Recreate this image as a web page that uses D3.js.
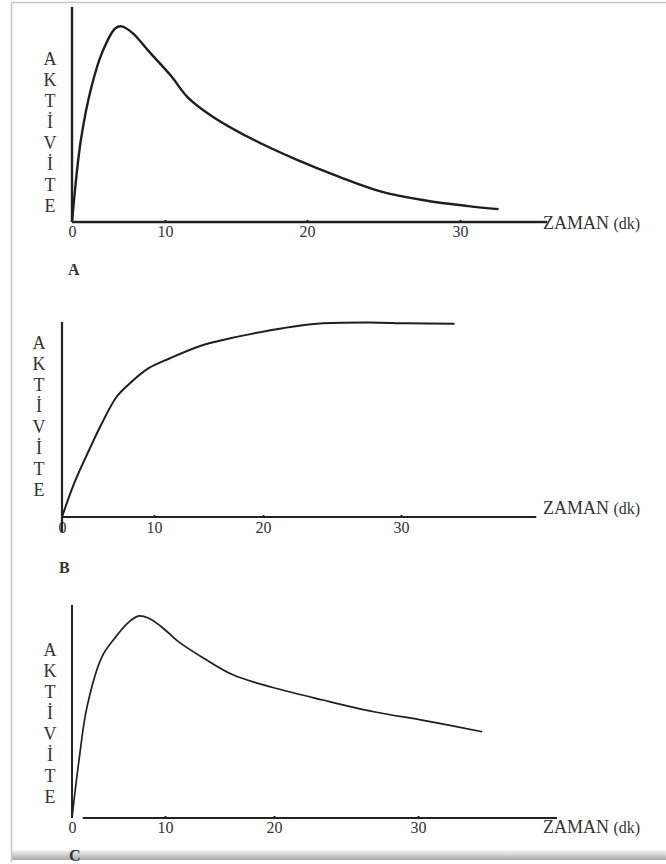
<!DOCTYPE html>
<html>
<head>
<meta charset="utf-8">
<script src="https://d3js.org/d3.v7.min.js"></script>
<style>
body { margin: 0; background: #fff; }
svg text { font-family: "Liberation Serif", "Times New Roman", serif; fill: #333; }
</style>
</head>
<body>
<svg width="666" height="864"></svg>
<script>
// tick labels on the time axis (dk)
var tickLabels = [0, 10, 20, 30];
var yLetters = ["A", "K", "T", "İ", "V", "İ", "T", "E"];

// A: rises fast, peaks ~5 dk, then washes out
var aTime = [0, 0.95, 2.1, 3.26, 4.64, 5.33, 6.49, 8.34, 10.42, 11.6, 13.36, 16.31, 19.26, 22.11, 24.92, 27.74, 30.55, 32.52];
var aActivity = [0, 38, 63, 79, 90, 91, 88, 79, 68, 58, 49, 38, 29, 21, 14, 10, 7.4, 6];

// B: rises and stays on a plateau
var bTime = [0, 1.34, 2.96, 4.35, 5.96, 7.58, 9.42, 11.46, 14.58, 17.7, 20.64, 22.49, 24.34, 27.72, 30.49, 33.88];
var bActivity = [0, 17.5, 34.5, 48.2, 61.8, 69.4, 76.3, 81.4, 88.3, 92.5, 95.9, 98, 99.3, 99.8, 99.3, 99.1];

// C: peak ~7 dk, then slow decline
var cTime = [0, 0.71, 1.62, 3.23, 4.59, 5.96, 7.11, 8.25, 9.61, 11.23, 13.55, 16.28, 19.81, 23.4, 26.93, 30.47, 34.46];
var cActivity = [0, 25.7, 52.3, 75.8, 84.4, 91.4, 94.8, 93.8, 89.8, 82.8, 75, 67.1, 61.4, 55.4, 49.9, 45.7, 40.5];

var svg = d3.select("svg");

// frame of the page
var grad = svg.append("defs").append("linearGradient")
    .attr("id", "shadow").attr("x1", 0).attr("y1", 0).attr("x2", 0).attr("y2", 1);
grad.append("stop").attr("offset", "0%").attr("stop-color", "#f6f6f6");
grad.append("stop").attr("offset", "100%").attr("stop-color", "#a8a8a8");
svg.append("rect").attr("x", 12).attr("y", 850).attr("width", 654).attr("height", 10)
    .attr("fill", "url(#shadow)");
svg.append("path").attr("d", "M11.5,862 V2.5 H666").attr("fill", "none")
    .attr("stroke", "#c8c8c8").attr("stroke-width", 1.5);

var panels = [
  {name: "A", time: aTime, act: aActivity, xr: [72, 165, 307, 460], axisX: [0, 35.7],
   yr: [222, 7], axisY: [0, 100], pad: 4, width: 2.4, axisW: 2.4,
   letterX: 50, letterY: 59, zamanY: 229, nameX: 68, nameY: 275},
  {name: "B", time: bTime, act: bActivity, xr: [62, 154, 263, 401], axisX: [0, 39.8],
   yr: [517, 322], axisY: [-8, 100], pad: 5, width: 2, axisW: 2.2,
   letterX: 39, letterY: 343, zamanY: 514, nameX: 59, nameY: 573},
  {name: "C", time: cTime, act: cActivity, xr: [72, 165, 274, 418], axisX: [1.16, 39.65],
   yr: [818, 605], axisY: [0, 100], pad: 4, width: 1.7, axisW: 2,
   letterX: 50, letterY: 650, zamanY: 833, nameX: 69, nameY: 861}
];

panels.forEach(function(p) {
  var x = d3.scaleLinear().domain(tickLabels).range(p.xr);
  var y = d3.scaleLinear().domain([0, 100]).range(p.yr);
  var g = svg.append("g");

  // x axis: small dots as ticks, labels below
  var ax = g.append("g")
      .attr("transform", "translate(0," + y(0) + ")")
      .call(d3.axisBottom(x).tickValues(tickLabels).tickSizeInner(-2).tickSizeOuter(0)
          .tickPadding(p.pad).tickFormat(d3.format("d")));
  ax.attr("font-family", null);
  ax.select(".domain").remove();
  ax.selectAll(".tick line").attr("stroke", "#222").attr("stroke-width", 2)
      .attr("opacity", function(d) { return d === 0 ? 0 : 1; });
  ax.selectAll(".tick text").attr("font-size", 16).attr("fill", "#333");

  g.append("line")
      .attr("x1", x(p.axisX[0])).attr("x2", x(p.axisX[1]))
      .attr("y1", y(0)).attr("y2", y(0))
      .attr("stroke", "#222").attr("stroke-width", p.axisW);

  // y axis
  g.append("line")
      .attr("x1", x(0)).attr("x2", x(0))
      .attr("y1", y(p.axisY[0])).attr("y2", y(p.axisY[1]))
      .attr("stroke", "#222").attr("stroke-width", p.axisW);

  // vertical AKTİVİTE label
  g.selectAll(".letter").data(yLetters).enter().append("text")
      .attr("x", p.letterX)
      .attr("y", function(d, i) { return p.letterY + i * 21; })
      .attr("text-anchor", "middle")
      .attr("dominant-baseline", "central")
      .attr("font-size", 18)
      .text(function(d) { return d; });

  var z = g.append("text").attr("x", 543).attr("y", p.zamanY).attr("font-size", 18);
  z.append("tspan").text("ZAMAN ");
  z.append("tspan").attr("font-size", 16).text("(dk)");

  g.append("text").attr("x", p.nameX).attr("y", p.nameY)
      .attr("font-size", 16).attr("font-weight", "bold").attr("fill", "#222")
      .text(p.name);

  var line = d3.line()
      .x(function(d, i) { return x(p.time[i]); })
      .y(function(d) { return y(d); })
      .curve(d3.curveCatmullRom.alpha(0.5));

  g.append("path")
      .attr("d", line(p.act))
      .attr("fill", "none")
      .attr("stroke", "#1e1e1e")
      .attr("stroke-width", p.width)
      .attr("stroke-linejoin", "round");
});
</script>
</body>
</html>
